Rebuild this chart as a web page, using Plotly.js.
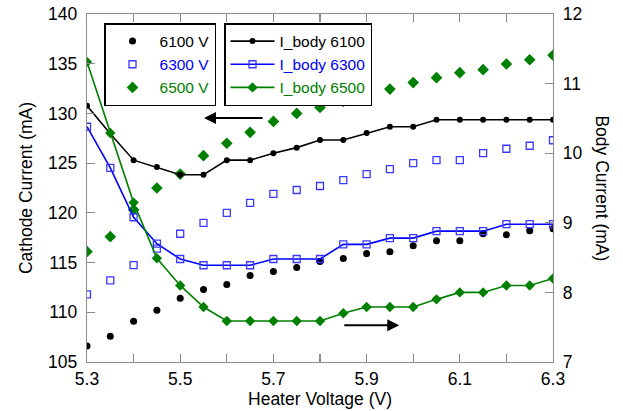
<!DOCTYPE html>
<html>
<head>
<meta charset="utf-8">
<script src="https://cdn.plot.ly/plotly-3.0.1.min.js"></script>
<style>html,body{margin:0;padding:0;background:#fff;}#chart{width:623px;height:411px;}</style>
</head>
<body>
<div id="chart"></div>
<script>
const heaterV = [5.3,5.35,5.4,5.45,5.5,5.55,5.6,5.65,5.7,5.75,5.8,5.85,5.9,5.95,6.0,6.05,6.1,6.15,6.2,6.25,6.3];
const cath6100 = [106.6,107.6,109.1,110.2,111.4,112.3,112.8,113.7,114.1,114.5,115.1,115.4,115.9,116.1,116.7,117.2,117.2,117.9,117.8,118.2,118.4];
const cath6300 = [111.8,113.2,114.75,116.4,117.9,119.0,120.0,121.0,121.9,122.3,122.7,123.3,123.9,124.4,125.0,125.3,125.3,126.0,126.45,126.75,127.3];
const cath6500 = [116.1,117.6,120.3,122.5,123.9,125.75,127.0,128.1,129.2,130.0,130.6,131.2,131.55,132.45,133.1,133.6,134.1,134.4,134.97,135.4,135.85];
const body6100 = [10.68,10.28,9.90,9.80,9.69,9.69,9.90,9.90,10.0,10.08,10.19,10.19,10.29,10.38,10.38,10.48,10.48,10.48,10.48,10.48,10.48];
const body6300 = [10.38,9.79,9.08,8.70,8.48,8.39,8.39,8.39,8.48,8.48,8.48,8.69,8.69,8.78,8.78,8.88,8.88,8.88,8.98,8.98,8.98];
const body6500 = [11.31,10.29,9.29,8.49,8.10,7.79,7.59,7.59,7.59,7.59,7.59,7.70,7.79,7.79,7.79,7.90,8.0,8.0,8.10,8.10,8.20];
const xTickVals = [5.3,5.4,5.5,5.6,5.7,5.8,5.9,6.0,6.1,6.2,6.3];
const xTickText = ['5.3','','5.5','','5.7','','5.9','','6.1','','6.3'];
const scatterNames = ['6100 V','6300 V','6500 V'];
const lineNames = ['I_body 6100','I_body 6300','I_body 6500'];

const BLACK = '#000000', BLUE = '#0000ff', GREEN = '#008000';
const FONT = 'Arial, "Liberation Sans", sans-serif';
const nm = (t, c) => '<span style="color:' + c + '">' + t + '</span>';

const traces = [
  {x: heaterV, y: cath6100, mode: 'markers', name: nm(scatterNames[0], BLACK), legend: 'legend',
   marker: {symbol: 'circle', size: 7, color: BLACK}},
  {x: heaterV, y: cath6300, mode: 'markers', name: nm(scatterNames[1], BLUE), legend: 'legend',
   marker: {symbol: 'square-open', size: 7, color: '#3a3aff', line: {width: 1.3}}},
  {x: heaterV, y: cath6500, mode: 'markers', name: nm(scatterNames[2], GREEN), legend: 'legend',
   marker: {symbol: 'diamond', size: 9, color: GREEN}},
  {x: heaterV, y: body6100, yaxis: 'y2', mode: 'lines+markers', name: nm(lineNames[0], BLACK), legend: 'legend2',
   line: {color: BLACK, width: 1.6}, marker: {symbol: 'circle', size: 6, color: BLACK}},
  {x: heaterV, y: body6300, yaxis: 'y2', mode: 'lines+markers', name: nm(lineNames[1], BLUE), legend: 'legend2',
   line: {color: BLUE, width: 1.6}, marker: {symbol: 'square-open', size: 7, color: '#3a3aff', line: {width: 1.3}}},
  {x: heaterV, y: body6500, yaxis: 'y2', mode: 'lines+markers', name: nm(lineNames[2], GREEN), legend: 'legend2',
   line: {color: GREEN, width: 1.6}, marker: {symbol: 'diamond', size: 8, color: GREEN}}
];

const axisCommon = {
  showline: true, linecolor: '#8c8c8c', linewidth: 1.3, showgrid: false, zeroline: false,
  ticks: 'inside', ticklen: 8, tickcolor: '#8c8c8c', tickwidth: 1.2,
  tickfont: {family: FONT, size: 17.5, color: '#000'}
};

const layout = {
  width: 623, height: 411,
  margin: {l: 87, r: 70, t: 14, b: 49},
  paper_bgcolor: '#fff', plot_bgcolor: '#fff',
  font: {family: FONT, size: 15.5, color: '#000'},
  showlegend: true,
  xaxis: Object.assign({}, axisCommon, {
    range: [5.3, 6.3], tickvals: xTickVals, ticktext: xTickText, mirror: 'ticks',
    ticklabelstandoff: 1,
    title: {text: 'Heater Voltage (V)', font: {family: FONT, size: 17.5}, standoff: 0}
  }),
  yaxis: Object.assign({}, axisCommon, {
    range: [105, 140], dtick: 5, tick0: 105, ticklabelstandoff: 5,
    title: {text: 'Cathode Current (mA)', font: {family: FONT, size: 17.5}, standoff: 11}
  }),
  yaxis2: Object.assign({}, axisCommon, {
    range: [7, 12], dtick: 1, tick0: 7, overlaying: 'y', side: 'right', ticklabelstandoff: 5
  }),
  legend: {x: 0.0365, y: 0.974, xanchor: 'left', yanchor: 'top', bgcolor: '#fff',
    bordercolor: '#000', borderwidth: 1.5, font: {family: FONT, size: 15.5}, itemwidth: 44, tracegroupgap: 0},
  legend2: {x: 0.294, y: 0.974, xanchor: 'left', yanchor: 'top', bgcolor: '#fff',
    bordercolor: '#000', borderwidth: 1.5, font: {family: FONT, size: 15.5}, itemwidth: 44, tracegroupgap: 0},
  annotations: [
    {xref: 'paper', yref: 'paper', x: 1.13, y: 0.5, text: 'Body Current (mA)', textangle: 90,
     showarrow: false, font: {family: FONT, size: 17.5, color: '#000'}},
    {xref: 'x', yref: 'y', axref: 'x', ayref: 'y', x: 5.551, y: 129.54, ax: 5.68, ay: 129.54,
     text: '', showarrow: true, arrowhead: 2, arrowsize: 1.2, arrowwidth: 2, arrowcolor: '#000'},
    {xref: 'x', yref: 'y', axref: 'x', ayref: 'y', x: 5.97, y: 108.7, ax: 5.849, ay: 108.7,
     text: '', showarrow: true, arrowhead: 2, arrowsize: 1.2, arrowwidth: 2, arrowcolor: '#000'}
  ]
};

Plotly.newPlot('chart', traces, layout, {displayModeBar: false, staticPlot: true});
</script>
</body>
</html>
